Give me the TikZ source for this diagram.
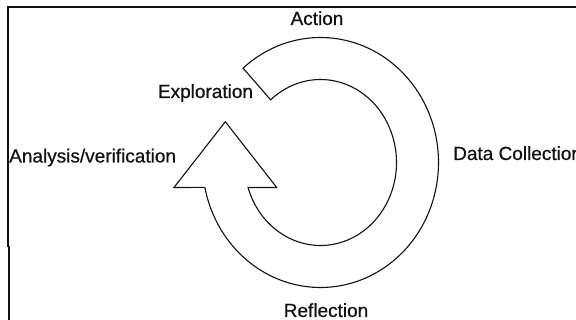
\documentclass[tikz,border=0pt]{standalone}
\usepackage{fontspec}
\setmainfont{Liberation Sans}
\newfontfamily\lblfont[FakeBold=0.6]{Liberation Sans}
\usetikzlibrary{calc}
\definecolor{ink}{HTML}{111111}

\begin{document}
\begin{tikzpicture}[x=1pt,y=1pt,
  lbl/.style={inner sep=0pt, anchor=base, text=ink, font=\lblfont\fontsize{19}{22}\selectfont},
  ringline/.style={draw=ink, fill=white, line width=1.1pt, line join=miter}]
\useasboundingbox (0,0) rectangle (576,320);
% frame, only top and left sides show
\draw[ink, line width=2pt] (8.3,73) -- (8.3,313.3) -- (576,313.3);
\draw[ink, line width=1.2pt] (9,0) -- (9,74);

% circular arrow
\coordinate (hub) at (320.5,157.5);
\coordinate (barbL) at (174,132.5);
\coordinate (tip) at (225.3,198.3);
\coordinate (barbR) at (276.7,132.5);
\draw[ringline] ($(hub)+(131:118 and 125)$)
  arc[start angle=131, end angle=-168.5, x radius=118, y radius=125]
  -- (barbL) -- (tip) -- (barbR)
  -- ($(hub)+(-162.5:76 and 83)$)
  arc[start angle=-162.5, end angle=131, x radius=76, y radius=83]
  -- cycle;

% stage labels
\node[lbl] (action) at (317,295) {Action};
\node[lbl] (explore) at (205.5,222) {Exploration};
\node[lbl, anchor=base west] (analysis) at (9,157.5) {Analysis/verification};
\node[lbl, anchor=base west] (datacoll) at (453,160) {Data Collection};
\node[lbl] (reflect) at (326,3) {Reflection};
\end{tikzpicture}
\end{document}
